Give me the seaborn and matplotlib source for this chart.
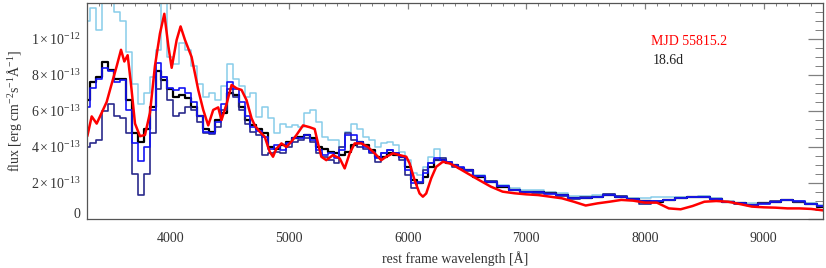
import numpy as np
import pandas as pd
import matplotlib
matplotlib.use("Agg")
import matplotlib.pyplot as plt
import matplotlib.transforms as mtransforms
from matplotlib.ticker import MultipleLocator
import seaborn as sns

# wavelength grid of the binned spectra (Angstrom)
wl_step = np.concatenate([np.arange(3300, 6501, 50), np.arange(6600, 9501, 100)])

# fluxes in units of 1e-13 erg/cm2/s/A
flux_lightblue = [
    11.0, 11.7, 10.5, 12.2, 12.5, 11.5, 11.0, 9.3, 7.5, 6.4, 7.0, 7.9, 9.4, 12.5, 9.0,
    8.6, 9.8, 9.4, 8.5, 7.5, 6.8, 7.0, 6.6, 7.4, 8.6, 7.8, 7.4, 6.8, 7.0,
    5.68, 6.24, 5.6, 4.76, 5.3, 5.1, 5.2, 5.1, 5.87, 6.06, 5.4, 4.57, 4.39, 4.39, 4.0,
    4.85, 5.3, 5.0, 4.57, 4.39, 4.0, 4.2, 4.3, 4.1, 3.74, 3.27, 2.53, 2.44, 2.9, 3.46,
    3.9, 3.37, 3.18, 3.0, 2.81, 2.75,
    2.45, 2.13, 1.89, 1.7, 1.61, 1.61, 1.48, 1.43, 1.28, 1.28, 1.33, 1.39, 1.28, 1.15,
    1.15, 1.2, 1.2, 1.24, 1.24, 1.28, 1.15, 1.02, 0.91, 0.91, 0.91, 0.96, 1.06, 1.0,
    0.87, 0.78,
]
flux_navy = [
    4.0, 4.2, 4.4, 6.0, 6.4, 5.7, 5.6, 4.8, 2.5, 1.35, 2.5, 4.8, 7.2, 7.9, 6.6,
    5.7, 5.9, 6.2, 6.06, 5.4, 4.8, 4.7, 5.1, 6.06, 7.2, 6.8, 6.06, 5.3, 4.85,
    4.66, 3.55, 3.65, 3.74, 3.65, 4.0, 4.3, 4.39, 4.48, 4.3, 3.65, 3.46, 3.27, 3.09, 4.0,
    4.76, 4.39, 4.0, 3.9, 3.65, 3.18, 3.65, 3.83, 3.65, 3.27, 2.44, 1.7, 1.98, 2.72, 3.09,
    3.27, 3.37, 3.18, 2.9, 2.81, 2.65,
    2.38, 2.1, 1.82, 1.63, 1.5, 1.46, 1.42, 1.3, 1.12, 1.2, 1.25, 1.38, 1.28, 1.08,
    0.85, 1.0, 1.04, 1.17, 1.22, 1.24, 1.1, 0.93, 0.86, 0.8, 0.9, 0.98, 1.07, 0.95,
    0.82, 0.7,
]
flux_blue = [
    6.2, 7.3, 7.8, 8.4, 8.2, 7.6, 7.7, 6.06, 4.2, 3.2, 4.0, 6.06, 8.65, 7.9, 7.3,
    7.17, 7.3, 7.0, 6.5, 5.7, 4.85, 4.8, 5.4, 6.4, 7.6, 7.2, 6.5, 5.7, 5.1,
    4.9, 4.57, 3.9, 4.1, 3.83, 4.2, 4.5, 4.5, 4.66, 4.39, 3.83, 3.55, 3.65, 3.37, 3.83,
    4.66, 4.66, 4.3, 4.0, 3.74, 3.37, 3.65, 3.83, 3.65, 3.46, 2.72, 1.98, 2.07, 2.53, 3.09,
    3.37, 3.27, 3.18, 3.0, 2.9, 2.7,
    2.4, 2.05, 1.85, 1.6, 1.5, 1.5, 1.4, 1.35, 1.15, 1.18, 1.22, 1.36, 1.25, 1.1,
    1.0, 0.98, 1.05, 1.18, 1.2, 1.22, 1.1, 0.95, 0.88, 0.8, 0.86, 0.97, 1.08, 0.98,
    0.84, 0.7,
]
flux_black = [
    6.6, 7.6, 7.9, 8.75, 8.3, 7.8, 7.8, 6.6, 4.8, 4.3, 5.0, 6.2, 8.2, 7.7, 7.2,
    6.8, 6.9, 6.7, 6.2, 5.7, 5.0, 4.85, 5.5, 5.9, 7.0, 6.9, 6.2, 5.5, 5.2,
    5.0, 4.76, 4.0, 3.9, 4.1, 4.3, 4.5, 4.57, 4.66, 4.48, 4.0, 3.9, 3.74, 3.65, 3.55,
    3.74, 4.1, 4.3, 4.1, 3.83, 3.46, 3.46, 3.65, 3.55, 3.46, 2.9, 2.16, 1.98, 2.35, 2.9,
    3.27, 3.27, 3.09, 3.0, 2.81, 2.7,
    2.35, 2.08, 1.8, 1.61, 1.52, 1.48, 1.43, 1.33, 1.15, 1.15, 1.24, 1.33, 1.24, 1.09,
    1.02, 0.96, 1.06, 1.15, 1.2, 1.2, 1.09, 0.96, 0.87, 0.78, 0.87, 0.96, 1.06, 0.96,
    0.83, 0.69,
]

# smooth model spectrum
wl_red = [
    3300, 3337, 3379, 3421, 3463, 3505, 3548, 3584, 3612, 3640, 3668, 3702, 3744, 3786,
    3828, 3870, 3912, 3949, 3983, 4011, 4053, 4086, 4123, 4179, 4235, 4277, 4319, 4361,
    4403, 4431, 4474, 4516, 4558, 4600, 4642, 4684, 4711, 4753, 4795, 4837, 4865, 4893,
    4936, 4978, 5020, 5062, 5118, 5174, 5216, 5244, 5272, 5314, 5370, 5427, 5469, 5511,
    5553, 5609, 5665, 5721, 5777, 5819, 5876, 5932, 5988, 6016, 6058, 6100, 6128, 6156,
    6198, 6240, 6296, 6353, 6409, 6500, 6600, 6700, 6800, 6900, 7000, 7100, 7200, 7300,
    7400, 7500, 7600, 7700, 7800, 7900, 8000, 8100, 8200, 8300, 8400, 8500, 8600, 8700,
    8800, 8900, 9000, 9100, 9200, 9300, 9400, 9500,
]
flux_red = [
    4.6, 5.7, 5.3, 5.9, 6.5, 7.5, 8.5, 9.4, 8.75, 9.1, 7.5, 5.3, 4.6, 4.67,
    5.9, 8.5, 10.3, 11.4, 9.6, 8.4, 9.95, 10.7, 9.95, 9.0, 7.17, 6.06, 5.2, 6.06,
    6.2, 5.5, 6.4, 7.45, 7.26, 7.17, 6.6, 5.6, 5.2, 4.85, 4.57, 3.74, 3.46, 3.9,
    4.2, 4.0, 4.3, 4.66, 5.2, 5.1, 5.0, 4.2, 3.46, 3.27, 3.55, 3.37, 2.81, 3.65,
    4.2, 4.2, 4.0, 3.65, 3.27, 3.46, 3.65, 3.55, 3.46, 3.09, 2.16, 1.42, 1.24, 1.42,
    2.26, 2.9, 3.18, 3.09, 2.9, 2.55, 2.17, 1.8, 1.52, 1.43, 1.37, 1.33, 1.24, 1.15,
    0.96, 0.75, 0.87, 0.96, 1.06, 1.02, 0.91, 0.91, 0.59, 0.54, 0.72, 0.96, 1.0, 0.96,
    0.83, 0.69, 0.65, 0.63, 0.59, 0.59, 0.56, 0.48,
]

ytick_vals = [0, 2, 4, 6, 8, 10]
ytick_labels = ["0", r"$2\times10^{-13}$", r"$4\times10^{-13}$", r"$6\times10^{-13}$",
                r"$8\times10^{-13}$", r"$1\times10^{-12}$"]
xtick_vals = [4000, 5000, 6000, 7000, 8000, 9000]

sns.set_theme(style="white")
plt.rcParams["font.family"] = ["Liberation Serif", "DejaVu Serif"]
plt.rcParams["mathtext.fontset"] = "custom"
plt.rcParams["mathtext.rm"] = "Liberation Serif"
plt.rcParams["mathtext.it"] = "Liberation Serif:italic"

fig = plt.figure(figsize=(8.26, 2.68), dpi=100)
ax = fig.add_axes([0.1057, 0.1828, 0.8907, 0.806])

steps = pd.DataFrame({"wl": wl_step, "lightblue": flux_lightblue, "navy": flux_navy,
                      "blue": flux_blue, "black": flux_black})
# drawing order: light blue at the back, then black, navy, blue
series = [("lightblue", "#87cdea", 1.1), ("black", "#000000", 1.6),
          ("navy", "#2a2a8c", 1.2), ("blue", "#1414f5", 1.2)]
for col, color, lw in series:
    sns.lineplot(data=steps, x="wl", y=col, ax=ax, color=color, linewidth=lw,
                 drawstyle="steps-mid", estimator=None, sort=False)

model = pd.DataFrame({"wl": wl_red, "flux": flux_red})
sns.lineplot(data=model, x="wl", y="flux", ax=ax, color="#ff0000", linewidth=1.8,
             estimator=None, sort=False)

ax.set_xlim(3300, 9500)
ax.set_ylim(0, 12)
ax.set_xticks(xtick_vals)
ax.xaxis.set_minor_locator(MultipleLocator(100))
ax.set_yticks(ytick_vals)
ax.set_yticklabels(ytick_labels)
ax.yaxis.set_minor_locator(MultipleLocator(0.5))

ax.tick_params(axis="both", which="both", direction="in", colors="#808080",
               labelcolor="#333333", labelsize=10, top=True, right=True)
ax.tick_params(axis="x", which="major", length=4, width=0.9, pad=9)
ax.tick_params(axis="x", which="minor", length=2, width=0.7)
ax.tick_params(axis="y", which="major", length=11, width=0.9, pad=5)
ax.tick_params(axis="y", which="minor", length=5.5, width=0.7)
for sp in ax.spines.values():
    sp.set_color("#555555")
    sp.set_linewidth(0.9)

# the zero label sits a little above the axis line
zero_lab = ax.yaxis.get_major_ticks()[0].label1
zero_lab.set_transform(zero_lab.get_transform() +
                       mtransforms.ScaledTranslation(0, 4 / 72, fig.dpi_scale_trans))

ax.set_xlabel("rest frame wavelength [Å]", fontsize=10, color="#333333", labelpad=5)
ax.set_ylabel(r"flux [erg cm$^{-2}$s$^{-1}$Å$^{-1}$]", fontsize=10, color="#333333",
              labelpad=5)

ax.text(0.766, 0.824, "MJD 55815.2", transform=ax.transAxes, color="#ff0000",
        fontsize=10, va="center")
ax.text(0.768, 0.736, "18.6d", transform=ax.transAxes, color="#222222",
        fontsize=10, va="center")

fig.savefig("out.png", dpi=100)
